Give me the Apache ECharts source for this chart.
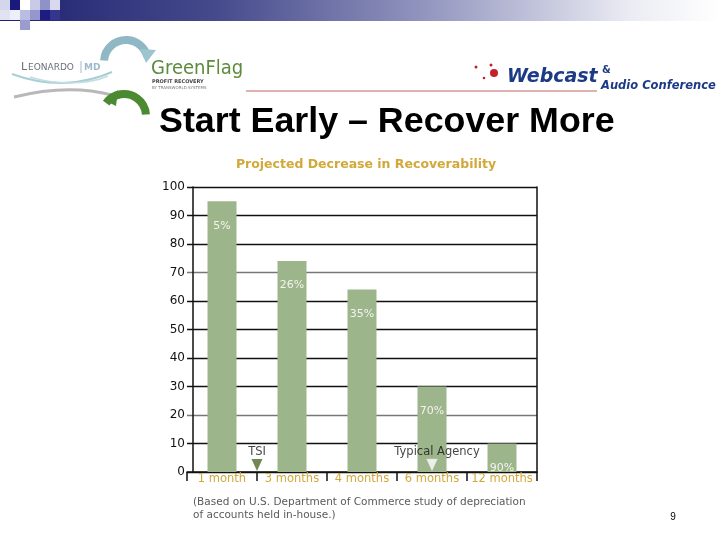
<!DOCTYPE html>
<html>
<head>
<meta charset="utf-8">
<script src="https://cdn.jsdelivr.net/npm/echarts@6/dist/echarts.min.js"></script>
<style>
html,body{margin:0;padding:0;background:#fff;}
#main{width:720px;height:540px;}
</style>
</head>
<body>
<div id="main"></div>
<script>
// ---- data ----
const categories = ['1 month', '3 months', '4 months', '6 months', '12 months'];
const recoverability = [95, 74, 64, 30, 10];
const decreaseLabels = ['5%', '26%', '35%', '70%', '90%'];
const yMin = 0, yMax = 100, yStep = 10;
const markerNames = ['TSI', 'Typical Agency'];
const markerX = [0.5, 3];
const markerY = [2.5, 2.5];

const chart = echarts.init(document.getElementById('main'), null, {renderer: 'canvas'});

const GOLD = '#d2a83a';
const FONT = '"DejaVu Sans", sans-serif';

function sq(x, y, c) {
  return {type: 'rect', shape: {x: x, y: y, width: 10, height: 10}, style: {fill: c}, silent: true};
}

const graphics = [
  // header gradient
  {type: 'rect', shape: {x: 0, y: 0, width: 720, height: 21},
    style: {fill: new echarts.graphic.LinearGradient(0, 0, 1, 0, [
      {offset: 0, color: '#1e226f'},
      {offset: 0.3, color: '#454a8c'},
      {offset: 0.6, color: '#9598c0'},
      {offset: 0.88, color: '#ecedf4'},
      {offset: 1, color: '#ffffff'}
    ])}, silent: true},
  sq(0, 0, '#d4d6ec'), sq(10, 0, '#1a1a7e'), sq(20, 0, '#ffffff'), sq(30, 0, '#c8cae8'), sq(40, 0, '#8e92c8'), sq(50, 0, '#d8d9ee'),
  sq(0, 10, '#e2e3f2'), sq(10, 10, '#eceef8'), sq(20, 10, '#babce2'), sq(30, 10, '#9496cc'), sq(40, 10, '#1c1c82'), sq(50, 10, '#34368e'),
  sq(20, 20, '#9a9cd0'),
  // LEONARDO | MD logo
  {type: 'text', x: 21, y: 67, style: {text: 'L', font: '11px "DejaVu Sans"', fill: '#6a6f78', align: 'left', verticalAlign: 'middle'}},
  {type: 'text', x: 28, y: 67.5, style: {text: 'EONARDO', font: '9px "DejaVu Sans"', fill: '#6a6f78', align: 'left', verticalAlign: 'middle'}},
  {type: 'line', shape: {x1: 81, y1: 61, x2: 81, y2: 73}, style: {stroke: '#a9b7c4', lineWidth: 1}},
  {type: 'text', x: 84, y: 67.5, style: {text: 'MD', font: 'bold 9px "DejaVu Sans"', fill: '#9fb9cc', align: 'left', verticalAlign: 'middle'}},
  {type: 'bezierCurve', shape: {x1: 12, y1: 74, cpx1: 50, cpy1: 88, cpx2: 85, cpy2: 84, x2: 112, y2: 72}, style: {stroke: '#a9cfd6', lineWidth: 2, fill: null}},
  {type: 'bezierCurve', shape: {x1: 30, y1: 77, cpx1: 60, cpy1: 86, cpx2: 90, cpy2: 84, x2: 108, y2: 76}, style: {stroke: '#c4dde2', lineWidth: 1.5, fill: null}},
  {type: 'bezierCurve', shape: {x1: 14, y1: 97, cpx1: 50, cpy1: 88, cpx2: 85, cpy2: 88, x2: 112, y2: 95}, style: {stroke: '#b8b8b8', lineWidth: 3, fill: null}},
  // top blue arrow
  {type: 'arc', shape: {cx: 126, cy: 62, r: 22, startAngle: Math.PI * 1.02, endAngle: Math.PI * 1.92}, style: {stroke: '#8fb8c4', lineWidth: 8, fill: null}},
  {type: 'polygon', shape: {points: [[140, 49], [156, 50], [146, 63]]}, style: {fill: '#9cc6cf'}},
  // bottom green arrow
  {type: 'arc', shape: {cx: 124, cy: 116, r: 22, startAngle: Math.PI * 1.2, endAngle: Math.PI * 1.98}, style: {stroke: '#4c8a32', lineWidth: 8, fill: null}},
  {type: 'polygon', shape: {points: [[104, 100], [118, 90], [116, 106]]}, style: {fill: '#4c8a32'}},
  // GreenFlag logo
  {type: 'text', x: 151, y: 69, style: {text: 'GreenFlag', font: '20px "DejaVu Sans Condensed", "DejaVu Sans"', fill: '#5c8b3c', align: 'left', verticalAlign: 'middle'}},
  {type: 'text', x: 152, y: 82, style: {text: 'PROFIT RECOVERY', font: 'bold 5px "DejaVu Sans"', fill: '#444', align: 'left', verticalAlign: 'middle'}},
  {type: 'text', x: 152, y: 88, style: {text: 'BY TRANSWORLD SYSTEMS', font: '4px "DejaVu Sans"', fill: '#777', align: 'left', verticalAlign: 'middle'}},
  // Webcast logo
  {type: 'circle', shape: {cx: 476, cy: 67, r: 1.5}, style: {fill: '#c4202c'}},
  {type: 'circle', shape: {cx: 491, cy: 65, r: 1.5}, style: {fill: '#c4202c'}},
  {type: 'circle', shape: {cx: 494, cy: 73, r: 4}, style: {fill: '#c4202c'}},
  {type: 'circle', shape: {cx: 484, cy: 78, r: 1.3}, style: {fill: '#c4202c'}},
  {type: 'text', x: 507, y: 77, style: {text: 'Webcast', font: 'italic bold 19px "DejaVu Sans"', fill: '#1c3a86', align: 'left', verticalAlign: 'middle'}},
  {type: 'text', x: 602, y: 70, style: {text: '&', font: 'bold 10px "DejaVu Sans"', fill: '#1c3a86', align: 'left', verticalAlign: 'middle'}},
  {type: 'text', x: 601, y: 86, style: {text: 'Audio Conference', font: 'italic bold 11.5px "DejaVu Sans"', fill: '#1c3a86', align: 'left', verticalAlign: 'middle'}},
  {type: 'line', shape: {x1: 246, y1: 91, x2: 597, y2: 91}, style: {stroke: '#c06666', lineWidth: 1}},
  // slide title
  {type: 'text', x: 159, y: 122, style: {text: 'Start Early \u2013 Recover More', font: 'bold 35.8px "Liberation Sans", Arial', fill: '#000', align: 'left', verticalAlign: 'middle'}},
  // chart title
  {type: 'text', x: 366, y: 165, style: {text: 'Projected Decrease in Recoverability', font: 'bold 12.5px "DejaVu Sans"', fill: GOLD, align: 'center', verticalAlign: 'middle'}},
  // footnote
  {type: 'text', x: 193, y: 502, style: {text: '(Based on U.S. Department of Commerce study of depreciation', font: '10.5px "DejaVu Sans"', fill: '#5a5a5a', align: 'left', verticalAlign: 'middle'}},
  {type: 'text', x: 193, y: 515, style: {text: 'of accounts held in-house.)', font: '10.5px "DejaVu Sans"', fill: '#5a5a5a', align: 'left', verticalAlign: 'middle'}},
  // page number
  {type: 'text', x: 673, y: 517, style: {text: '9', font: '10px "Liberation Sans", Arial', fill: '#000', align: 'center', verticalAlign: 'middle'}}
];

const option = {
  backgroundColor: '#ffffff',
  animation: false,
  textStyle: {fontFamily: FONT},
  grid: {left: 187, top: 187, width: 350, height: 285, containLabel: false},
  xAxis: [
    {
      type: 'category',
      data: categories,
      gridIndex: 0,
      boundaryGap: true,
      axisLine: {show: true, onZero: false, lineStyle: {color: '#111', width: 1.5}},
      axisTick: {show: true, interval: 0, length: 9, lineStyle: {color: '#111', width: 1.5}},
      axisLabel: {color: GOLD, fontSize: 11.5, margin: 1, interval: 0, fontFamily: FONT},
      splitLine: {show: false}
    },
    {
      type: 'value', gridIndex: 0, min: -0.5, max: 4.5, show: false
    }
  ],
  yAxis: [
    {
      type: 'value',
      min: yMin, max: yMax, interval: yStep,
      position: 'left',
      offset: -6,
      axisLine: {show: true, onZero: false, lineStyle: {color: '#111', width: 1.5}},
      axisTick: {show: false},
      axisLabel: {color: '#111', fontSize: 12, margin: 8, fontFamily: FONT},
      splitLine: {show: true, lineStyle: {color: ['#111', '#111', '#777', '#111', '#111'], width: 1.4}}
    },
    {
      type: 'value',
      min: yMin, max: yMax, interval: yStep,
      position: 'right',
      axisLine: {show: true, onZero: false, lineStyle: {color: '#111', width: 1.5}},
      axisTick: {show: false},
      axisLabel: {show: false},
      splitLine: {show: false}
    }
  ],
  series: [
    {
      type: 'bar',
      xAxisIndex: 0,
      yAxisIndex: 0,
      data: recoverability,
      barWidth: 29,
      itemStyle: {color: '#9db58b'},
      label: {
        show: true,
        position: 'insideTop',
        distance: 19,
        color: '#f4f4ee',
        fontSize: 11,
        fontFamily: FONT,
        formatter: function (p) { return decreaseLabels[p.dataIndex]; }
      }
    },
    {
      type: 'scatter',
      xAxisIndex: 1,
      yAxisIndex: 0,
      symbol: 'triangle',
      symbolRotate: 180,
      symbolSize: [11, 12],
      data: markerX.map(function (x, i) {
        return {
          value: [x, markerY[i]],
          name: markerNames[i],
          itemStyle: i === 0 ? {color: '#4e6a2a'} : {color: '#ffffff', borderColor: '#d8d8d8', borderWidth: 0.5},
          label: i === 0 ? {offset: [0, 0]} : {offset: [5, 0]}
        };
      }),
      label: {
        show: true,
        position: 'top',
        distance: 1,
        color: '#111',
        fontSize: 11.5,
        fontFamily: FONT,
        formatter: function (p) { return p.name; }
      },
      z: 5
    }
  ],
  graphic: graphics
};

chart.setOption(option);
</script>
</body>
</html>
